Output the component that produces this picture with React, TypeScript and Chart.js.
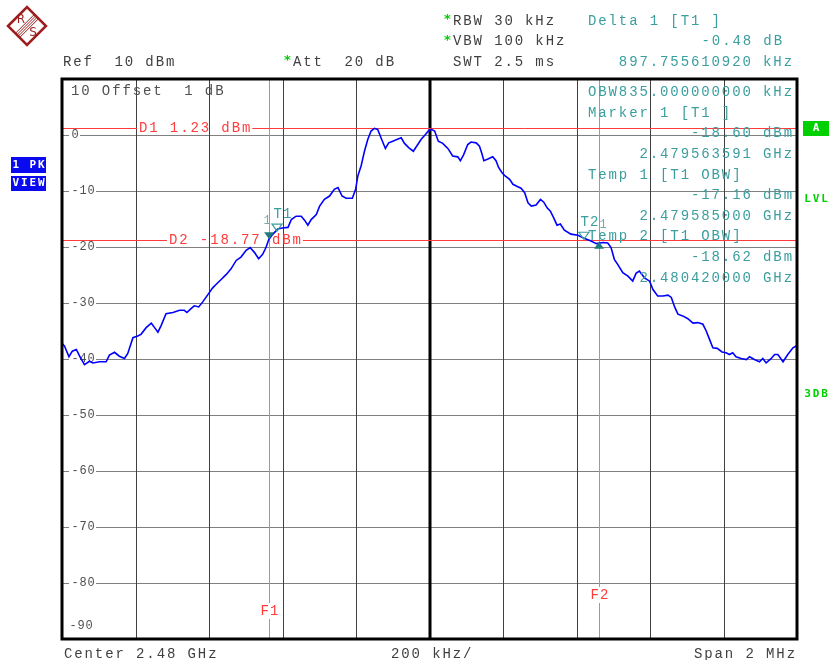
import React, { useEffect, useRef } from "react";
import { Chart, registerables } from "chart.js";
Chart.register(...registerables);

// ---- Data (frequency offset from 2.48 GHz center, kHz; level in dBm) ----
const freqOffsetKHz = [
  -1000, -993, -981, -972, -961, -952, -939, -925, -916, -898,
  -880, -871, -857, -844, -830, -821, -807, -794, -785, -771,
  -757, -748, -739, -730, -717, -698, -680, -667, -660, -649,
  -640, -628, -617, -603, -590, -581, -567, -553, -540, -526,
  -513, -499, -488, -476, -465, -454, -445, -437, -426, -413,
  -401, -385, -376, -363, -349, -340, -331, -322, -308, -299,
  -286, -272, -259, -249, -238, -227, -210, -201, -195, -186,
  -177, -168, -159, -150, -141, -132, -120, -111, -100, -89,
  -77, -68, -56, -44, -35, -23, -11, -2, 5, 14,
  24, 36, 50, 63, 77, 84, 93, 104, 113, 127,
  136, 142, 148, 159, 172, 181, 188, 197, 204, 218,
  227, 239, 249, 259, 268, 277, 290, 302, 311, 320,
  329, 338, 347, 356, 367, 385, 404, 422, 438, 454,
  472, 485, 494, 503, 512, 526, 540, 553, 562, 571,
  585, 599, 608, 621, 635, 649, 658, 667, 676, 689,
  703, 717, 730, 744, 753, 762, 771, 783, 796, 807,
  816, 825, 834, 848, 862, 871, 884, 898, 907, 916,
  930, 939, 948, 962, 975, 989, 1000,
];
const traceDbm = [
  -37.2, -37.7, -39.6, -38.6, -38.3, -39.5, -41.0, -40.4, -40.7, -40.5,
  -40.5, -39.3, -38.8, -39.5, -39.9, -39.0, -36.2, -35.9, -35.6, -34.4,
  -33.6, -34.4, -35.2, -34.0, -31.9, -31.7, -31.3, -31.3, -31.7, -31.0,
  -30.5, -30.7, -29.8, -28.5, -27.3, -26.7, -25.8, -24.9, -23.9, -22.4,
  -21.8, -20.6, -20.1, -21.0, -22.1, -21.3, -20.1, -18.6, -17.7, -16.8,
  -16.6, -16.5, -15.1, -14.5, -14.5, -15.2, -16.1, -15.1, -14.2, -12.7,
  -11.5, -10.9, -9.7, -9.4, -10.9, -11.3, -11.3, -9.7, -7.3, -5.5,
  -2.9, -0.8, 0.7, 1.2, 1.0, -0.5, -2.4, -1.4, -1.1, -0.8,
  -0.5, -1.5, -2.3, -2.9, -2.0, -0.8, 0.1, 0.8, 1.0, 0.7,
  -1.1, -1.5, -2.4, -3.75, -3.9, -4.6, -3.5, -1.7, -1.25, -1.4,
  -2.0, -3.2, -4.6, -4.3, -3.9, -4.6, -5.8, -6.7, -7.2, -7.9,
  -8.8, -9.2, -9.5, -10.3, -12.1, -12.7, -12.5, -11.5, -12.0, -13.0,
  -13.6, -14.8, -16.1, -15.9, -17.0, -17.7, -17.9, -18.5, -18.9, -19.4,
  -19.2, -19.3, -20.1, -22.2, -23.1, -24.6, -25.2, -26.1, -24.7, -24.3,
  -25.5, -26.1, -27.6, -28.75, -28.75, -28.6, -29.0, -30.7, -32.0, -32.3,
  -32.8, -33.6, -33.5, -33.8, -35.0, -36.5, -38.0, -38.1, -38.75, -38.9,
  -39.2, -38.9, -39.6, -39.9, -40.1, -39.6, -40.1, -40.5, -39.9, -40.7,
  -39.9, -39.2, -39.2, -40.5, -39.2, -38.0, -37.6,
];

const yGridDbm = [0, -10, -20, -30, -40, -50, -60, -70, -80];
const yTickLabels = ["0", "-10", "-20", "-30", "-40", "-50", "-60", "-70", "-80"];
const yBottomLabel = "-90";
const xGridKHz = [-800, -600, -400, -200, 200, 400, 600, 800];

const displayLinesDbm = [1.23, -18.77];
const displayLineLabels = ["D1 1.23 dBm", "D2 -18.77 dBm"];
const freqLinesKHz = [-436.409, 461.347];
const freqLineLabels = ["F1", "F2"];

// Marker 1, Temp 1, Temp 2, Delta 1
const markerKHz = [-436.409, -415, 420, 461.347];
const markerDbm = [-18.6, -17.16, -18.62, -19.08];

const headerSettings = ["RBW 30 kHz", "VBW 100 kHz", "SWT 2.5 ms"];
const deltaInfo = ["Delta 1 [T1 ]", "-0.48 dB", "897.755610920 kHz"];
const markerInfoLines = [
  "OBW835.000000000 kHz",
  "Marker 1 [T1 ]",
  "-18.60 dBm",
  "2.479563591 GHz",
  "Temp 1 [T1 OBW]",
  "-17.16 dBm",
  "2.479585000 GHz",
  "Temp 2 [T1 OBW]",
  "-18.62 dBm",
  "2.480420000 GHz",
];
const markerInfoRight = [false, false, true, true, false, true, true, false, true, true];

const FONT = '14px "Liberation Mono", "DejaVu Sans Mono", monospace';
const SMALL = '12px "Liberation Mono", "DejaVu Sans Mono", monospace';
const BOLD = 'bold 11px "DejaVu Sans Mono", "Liberation Mono", monospace';
const P = 10.3;
const GRAY = "#404040";
const TEAL = "#3a9e9e";
const RED = "#ff3b3b";
const PINK = "#ff7070";
const GREEN = "#00d000";

function mono(
  ctx: CanvasRenderingContext2D,
  s: string,
  x: number,
  y: number,
  color: string,
  pitch = P,
  font = FONT,
  align: "left" | "right" | "center" = "left"
) {
  ctx.save();
  ctx.font = font;
  ctx.fillStyle = color;
  ctx.textAlign = "center";
  ctx.textBaseline = "middle";
  const w = s.length * pitch;
  const x0 = align === "left" ? x : align === "right" ? x - w : x - w / 2;
  for (let i = 0; i < s.length; i++) {
    if (s[i] !== " ") ctx.fillText(s[i], x0 + (i + 0.5) * pitch, y);
  }
  ctx.restore();
}

function drawLogo(ctx: CanvasRenderingContext2D) {
  const cx = 27, cy = 26, h = 19;
  const col = "#9c1e1e";
  ctx.save();
  ctx.beginPath();
  ctx.moveTo(cx - h, cy);
  ctx.lineTo(cx, cy - h);
  ctx.lineTo(cx + h, cy);
  ctx.lineTo(cx, cy + h);
  ctx.closePath();
  ctx.strokeStyle = col;
  ctx.lineWidth = 2.5;
  ctx.stroke();
  ctx.clip();
  ctx.lineWidth = 1;
  for (const o of [-3, -1, 1, 3]) {
    const dx = o / Math.SQRT2;
    ctx.beginPath();
    ctx.moveTo(cx - 14 + dx, cy + 14 + dx);
    ctx.lineTo(cx + 14 + dx, cy - 14 + dx);
    ctx.stroke();
  }
  ctx.restore();
  ctx.save();
  ctx.fillStyle = col;
  ctx.font = '12px "DejaVu Sans", sans-serif';
  ctx.textAlign = "center";
  ctx.textBaseline = "middle";
  ctx.fillText("R", 21, 20);
  ctx.fillText("S", 33, 33);
  ctx.restore();
}

const analyzerPlugin = {
  id: "analyzer",
  beforeDatasetsDraw(chart: any) {
    const { ctx, chartArea: a, scales } = chart;
    const xs = scales.x, ys = scales.y;
    ctx.save();
    // horizontal grid
    ctx.strokeStyle = "#808080";
    ctx.lineWidth = 1;
    yGridDbm.forEach((v) => {
      const py = Math.round(ys.getPixelForValue(v)) + 0.5;
      ctx.beginPath();
      ctx.moveTo(a.left, py);
      ctx.lineTo(a.right, py);
      ctx.stroke();
    });
    // vertical grid
    ctx.strokeStyle = GRAY;
    xGridKHz.forEach((k) => {
      const px = Math.round(xs.getPixelForValue(k)) + 0.5;
      ctx.beginPath();
      ctx.moveTo(px, a.top);
      ctx.lineTo(px, a.bottom);
      ctx.stroke();
    });
    // center line
    ctx.strokeStyle = "#000";
    ctx.lineWidth = 3;
    const c = Math.round(xs.getPixelForValue(0));
    ctx.beginPath();
    ctx.moveTo(c, a.top);
    ctx.lineTo(c, a.bottom);
    ctx.stroke();

    // y tick labels with white gaps
    yGridDbm.forEach((v, i) => {
      const py = ys.getPixelForValue(v);
      const lab = yTickLabels[i];
      ctx.fillStyle = "#fff";
      ctx.fillRect(a.left + 7, py - 5, lab.length * 8 + 3, 10);
      mono(ctx, lab, a.left + 9, py, "#505050", 8, SMALL);
    });
    mono(ctx, yBottomLabel, a.left + 7, ys.getPixelForValue(-90) - 13, "#505050", 8, SMALL);

    // frequency lines F1/F2
    freqLinesKHz.forEach((k, i) => {
      const px = Math.round(xs.getPixelForValue(k)) + 0.5;
      const ly = i === 0 ? 611 : 595;
      ctx.strokeStyle = PINK;
      ctx.lineWidth = 1;
      ctx.beginPath();
      ctx.moveTo(px, a.top);
      ctx.lineTo(px, ly - 8);
      ctx.moveTo(px, ly + 8);
      ctx.lineTo(px, a.bottom);
      ctx.stroke();
      mono(ctx, freqLineLabels[i], px, ly, RED, 9.5, FONT, "center");
    });

    // display lines D1/D2
    displayLinesDbm.forEach((v, i) => {
      const py = Math.round(ys.getPixelForValue(v)) + 0.5;
      const lab = displayLineLabels[i];
      const tx = i === 0 ? 138 : 168;
      const tw = lab.length * P;
      ctx.strokeStyle = RED;
      ctx.lineWidth = 1;
      ctx.beginPath();
      ctx.moveTo(a.left, py);
      ctx.lineTo(tx - 1, py);
      ctx.moveTo(tx + tw + 1, py);
      ctx.lineTo(a.right, py);
      ctx.stroke();
      mono(ctx, lab, tx, py, RED);
    });
    ctx.restore();
  },
  afterDatasetsDraw(chart: any) {
    const { ctx, chartArea: a, scales } = chart;
    const xs = scales.x, ys = scales.y;
    ctx.save();

    const pts = markerKHz.map((k, i) => [xs.getPixelForValue(k), ys.getPixelForValue(markerDbm[i])]);
    const MK = "#1f7a7a";
    {
      const [px, py] = pts[0];
      ctx.fillStyle = MK;
      ctx.beginPath();
      ctx.moveTo(px - 5, py - 7);
      ctx.lineTo(px + 5, py - 7);
      ctx.lineTo(px, py);
      ctx.closePath();
      ctx.fill();
      mono(ctx, "1", px - 2, py - 18, "#7aa8a8", 8, SMALL, "center");
    }
    [1, 2].forEach((idx) => {
      const [px, py] = pts[idx];
      ctx.strokeStyle = TEAL;
      ctx.lineWidth = 1.2;
      ctx.beginPath();
      ctx.moveTo(px - 5, py - 7);
      ctx.lineTo(px + 5, py - 7);
      ctx.lineTo(px, py);
      ctx.closePath();
      ctx.stroke();
      mono(ctx, idx === 1 ? "T1" : "T2", px - 4, py - 17, TEAL, 9.5);
    });
    {
      const [px, py] = pts[3];
      ctx.fillStyle = MK;
      ctx.beginPath();
      ctx.moveTo(px - 5, py + 7);
      ctx.lineTo(px + 5, py + 7);
      ctx.lineTo(px, py);
      ctx.closePath();
      ctx.fill();
      mono(ctx, "1", px + 4, py - 17, "#7aa8a8", 8, SMALL, "center");
    }

    markerInfoLines.forEach((s, i) => {
      const yy = 92.5 + i * 20.6;
      if (markerInfoRight[i]) mono(ctx, s, 793, yy, TEAL, P, FONT, "right");
      else mono(ctx, s, 587, yy, TEAL);
    });

    mono(ctx, "10 Offset  1 dB", 70, 91, "#505050");

    ctx.strokeStyle = "#000";
    ctx.lineWidth = 3;
    ctx.strokeRect(a.left, a.top, a.right - a.left, a.bottom - a.top);

    drawLogo(ctx);
    mono(ctx, "Ref  10 dBm", 62, 62, "#404040");
    mono(ctx, "*", 283, 61, GREEN, 9, 'bold 13px "DejaVu Sans Mono", monospace');
    mono(ctx, "Att  20 dB", 292, 62, "#404040");
    headerSettings.forEach((s, i) => {
      const yy = 21 + i * 20.5;
      if (i < 2) mono(ctx, "*", 443, yy - 1, GREEN, 9, 'bold 13px "DejaVu Sans Mono", monospace');
      mono(ctx, s, 452, yy, "#404040");
    });
    mono(ctx, deltaInfo[0], 587, 21, TEAL);
    mono(ctx, deltaInfo[1], 783, 41.5, TEAL, P, FONT, "right");
    mono(ctx, deltaInfo[2], 793, 62, TEAL, P, FONT, "right");

    mono(ctx, "Center 2.48 GHz", 63, 654, "#404040");
    mono(ctx, "200 kHz/", 390, 654, "#404040");
    mono(ctx, "Span 2 MHz", 796, 654, "#404040", P, FONT, "right");

    ctx.fillStyle = "#0a0af0";
    ctx.fillRect(11, 157, 35, 16);
    ctx.fillRect(11, 176, 35, 15);
    mono(ctx, "1 PK", 28.5, 165, "#fff", 8.5, BOLD, "center");
    mono(ctx, "VIEW", 28.5, 183.5, "#fff", 8.5, BOLD, "center");

    ctx.fillStyle = GREEN;
    ctx.fillRect(803, 121, 26, 15);
    mono(ctx, "A", 816, 128.5, "#fff", 8.5, BOLD, "center");
    mono(ctx, "LVL", 816, 199, GREEN, 8.5, BOLD, "center");
    mono(ctx, "3DB", 816, 394, GREEN, 8.5, BOLD, "center");

    ctx.restore();
  },
};

export default function App() {
  const ref = useRef<HTMLCanvasElement>(null);
  useEffect(() => {
    const chart = new Chart(ref.current as HTMLCanvasElement, {
      type: "line",
      data: {
        datasets: [
          {
            data: freqOffsetKHz.map((f, i) => ({ x: f, y: traceDbm[i] })),
            borderColor: "#0000ff",
            borderWidth: 1.6,
            pointRadius: 0,
            tension: 0,
            fill: false,
          },
        ],
      },
      options: {
        responsive: false,
        animation: false,
        events: [],
        layout: { padding: { left: 62, top: 79, right: 33, bottom: 21 } },
        plugins: { legend: { display: false }, tooltip: { enabled: false } },
        scales: {
          x: { type: "linear", min: -1000, max: 1000, display: false },
          y: { type: "linear", min: -90, max: 10, display: false },
        },
      },
      plugins: [analyzerPlugin],
    } as any);
    return () => chart.destroy();
  }, []);
  return (
    <div style={{ position: "fixed", left: 0, top: 0, width: 830, height: 660, background: "#fff" }}>
      <canvas ref={ref} width={830} height={660} style={{ display: "block", width: 830, height: 660 }} />
    </div>
  );
}
